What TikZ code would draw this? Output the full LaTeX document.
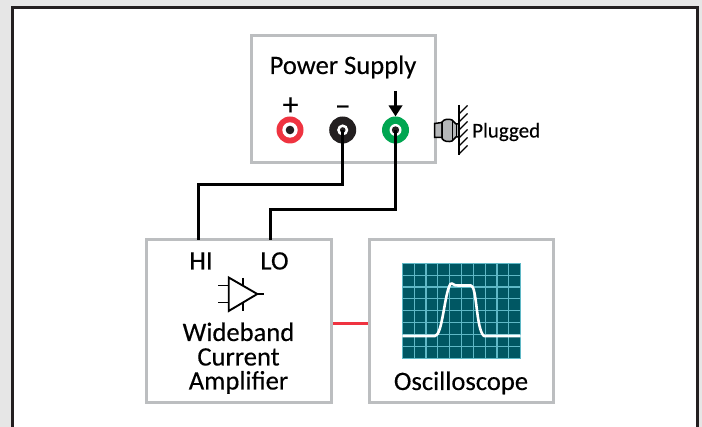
\documentclass[tikz,border=0pt]{standalone}
\usepackage{fontspec}
\setmainfont{Carlito}
\newfontfamily\labfont[FakeBold=0.3]{Carlito}
\definecolor{pagegray}{HTML}{E6E6E6}
\definecolor{framedark}{HTML}{231F20}
\definecolor{boxgray}{HTML}{BCBEC0}
\definecolor{jackred}{HTML}{EF3340}
\definecolor{jackgreen}{HTML}{00A651}
\definecolor{scopefill}{HTML}{005763}
\definecolor{scopegrid}{HTML}{5FB8C6}
\definecolor{plugfill}{HTML}{B5B7B9}
\tikzset{
  x=1pt,y=-1pt,
  panel/.style={draw=boxgray,line width=3pt,fill=white},
  wire/.style={draw=black,line width=3pt},
  thinline/.style={draw=black,line width=1.9pt},
  lab/.style={font=\labfont\fontsize{26.6}{28}\selectfont,inner sep=0pt,anchor=base,text=black},
  smalllab/.style={font=\labfont\fontsize{21}{24}\selectfont,inner sep=0pt,anchor=base west,text=black},
  jack/.style={circle,inner sep=0pt,minimum size=27pt},
}
\begin{document}
\begin{tikzpicture}
\useasboundingbox (0,0) rectangle (702,427);
\fill[pagegray] (0,0) rectangle (702,427);
\fill[white] (12,7) rectangle (698,427);
\draw[framedark,line width=3pt] (12.3,427) -- (12.3,7.5) -- (697.7,7.5) -- (697.7,427);
% boxes
\node[panel,minimum width=184pt,minimum height=127pt,inner sep=0pt] (ps) at (343,99.5) {};
\node[panel,minimum width=185pt,minimum height=163pt,inner sep=0pt] (amp) at (239.2,321.5) {};
\node[panel,minimum width=184pt,minimum height=163pt,inner sep=0pt] (osc) at (461,321.5) {};
\draw[jackred,line width=3pt] (amp.east |- 0,324) -- (osc.west |- 0,324);
% labels
\node[lab] (pst) at (343,74) {Power Supply};
\node[lab] (hi) at (201,269.5) {HI};
\node[lab] (lo) at (274.5,269.5) {LO};
\node[lab] (wb) at (238.5,341) {Wideband};
\node[lab] (cu) at (238.5,365.5) {Current};
\node[lab] (am) at (238.5,389.5) {Amplifier};
\node[lab] (oc) at (461,390) {Oscilloscope};
\node[smalllab] (pl) at (472,137.5) {Plugged};
\node[lab,font=\labfont\fontsize{32}{34}\selectfont] (plus) at (290.5,115) {+};
\node[lab,font=\labfont\fontsize{30}{34}\selectfont] (minus) at (342.7,116) {−};
% jacks
\node[jack,fill=jackred] (j1) at (290,130) {};
\fill[white] (j1.center) circle (7.7);
\fill[framedark] (j1.center) circle (4.3);
\node[jack,fill=framedark] (j2) at (342.7,130) {};
\fill[white] (j2.center) circle (5.6);
\fill[framedark] (j2.center) circle (2.8);
\node[jack,fill=jackgreen] (j3) at (395.5,130) {};
\fill[white] (j3.center) circle (6);
\fill[framedark] (j3.center) circle (3.7);
% wires
\coordinate (hiin) at (198,240);
\coordinate (loin) at (270,240);
\draw[wire] (j2.center) |- (hiin |- 0,185) -- (hiin);
\draw[wire] (j3.center) |- (loin |- 0,210) -- (loin);
% arrow
\coordinate (atop) at (395.5,91);
\draw[black,line width=2.2pt] (atop) -- (395.5,108);
\fill[black] (j3.north) -- (388.5,105.5) -- (402.5,105.5) -- cycle;
% plug
\draw[black,line width=1.5pt,fill=plugfill] (434.5,123.5) -- (442,122.5) -- (442,137.5) -- (434.5,137.5) -- cycle;
\draw[black,line width=1.5pt,fill=plugfill] (442,122) .. controls (444,119) and (449,118.5) .. (452,120) -- (456,124) -- (459,124) -- (459,137) -- (456,137) -- (452,141) .. controls (449,142) and (444,142) .. (442,138.5) -- cycle;
\draw[black,line width=1pt] (452,120) -- (452,141) (456,124) -- (456,137);
\coordinate (walltop) at (459,105);
\coordinate (wallbot) at (459,155);
\draw[black,line width=1.6pt] (walltop) -- (wallbot);
\foreach \yy in {114,122,130,138,146,154}
  \draw[black,line width=1.3pt] (459,\yy) -- (467.5,\yy-8.5);
% amplifier symbol
\draw[black,line width=1.9pt,line join=miter] (228.7,277.5) -- (257.3,294) -- (228.7,311) -- cycle;
\draw[thinline] (218,285.5) -- (228.7,285.5) (218,302.5) -- (228.7,302.5) (257.3,294) -- (264,294)
  (242.7,278) -- (242.7,285.5) (242.7,303) -- (242.7,311);
% oscilloscope screen
\fill[scopefill] (402.3,263.3) rectangle (520.7,358.3);
\foreach \i in {0,...,10}
  \draw[scopegrid,line width=1.1pt] ({402.3+11.84*\i},263.3) -- ({402.3+11.84*\i},358.3);
\foreach \i in {0,...,8}
  \draw[scopegrid,line width=1.1pt] (402.3,{263.3+11.875*\i}) -- (520.7,{263.3+11.875*\i});
\draw[white,line width=2.6pt,line join=round] (402.3,336) -- (435,336)
  .. controls (442,335) and (444,300) .. (449,287)
  .. controls (450,284) and (451,283) .. (452,283.5)
  .. controls (454,285.5) and (456,285.5) .. (458,285.5)
  -- (471,285.5)
  .. controls (477,286) and (476,330) .. (484,336)
  -- (520.7,336);
\end{tikzpicture}
\end{document}
